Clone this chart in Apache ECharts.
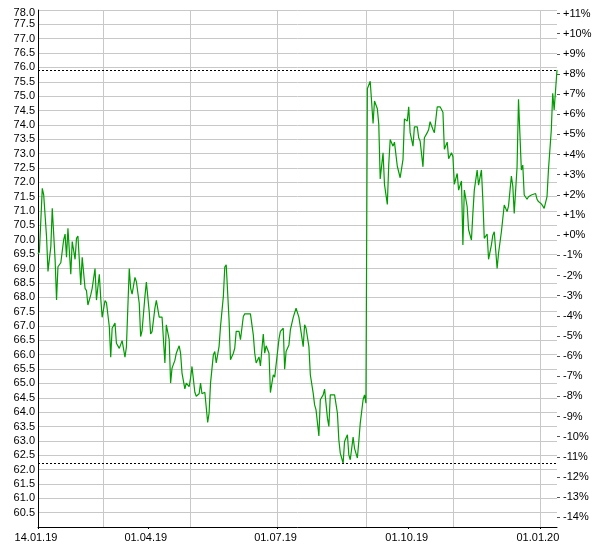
<!DOCTYPE html>
<html>
<head>
<meta charset="utf-8">
<script src="https://cdn.jsdelivr.net/npm/echarts@6/dist/echarts.min.js"></script>
<style>html,body{margin:0;padding:0;background:#fff}#c{width:600px;height:550px}</style>
</head>
<body>
<div id="c"></div>
<script>
const dates = [
'2019-01-14','2019-01-15','2019-01-16','2019-01-17','2019-01-18','2019-01-20','2019-01-21','2019-01-23','2019-01-24','2019-01-26',
'2019-01-27','2019-01-28','2019-01-30','2019-02-01','2019-02-02','2019-02-03','2019-02-04','2019-02-06','2019-02-07','2019-02-09',
'2019-02-10','2019-02-11','2019-02-13','2019-02-14','2019-02-16','2019-02-17','2019-02-18','2019-02-20','2019-02-21','2019-02-23',
'2019-02-24','2019-02-26','2019-02-27','2019-02-28','2019-03-02','2019-03-03','2019-03-05','2019-03-06','2019-03-07','2019-03-09',
'2019-03-10','2019-03-12','2019-03-13','2019-03-14','2019-03-16','2019-03-17','2019-03-19','2019-03-20','2019-03-21','2019-03-23',
'2019-03-24','2019-03-26','2019-03-27','2019-03-28','2019-03-30','2019-03-31','2019-04-02','2019-04-03','2019-04-04','2019-04-06',
'2019-04-07','2019-04-09','2019-04-11','2019-04-13','2019-04-14','2019-04-16','2019-04-17','2019-04-18','2019-04-20','2019-04-21',
'2019-04-23','2019-04-24','2019-04-25','2019-04-27','2019-04-28','2019-04-30','2019-05-01','2019-05-02','2019-05-04','2019-05-05',
'2019-05-07','2019-05-08','2019-05-09','2019-05-11','2019-05-13','2019-05-14','2019-05-15','2019-05-17','2019-05-18','2019-05-19',
'2019-05-21','2019-05-22','2019-05-24','2019-05-25','2019-05-26','2019-05-28','2019-05-29','2019-05-31','2019-06-01','2019-06-02',
'2019-06-04','2019-06-05','2019-06-07','2019-06-08','2019-06-12','2019-06-14','2019-06-15','2019-06-16','2019-06-18','2019-06-19',
'2019-06-21','2019-06-22','2019-06-23','2019-06-25','2019-06-26','2019-06-28','2019-06-29','2019-06-30','2019-07-02','2019-07-03',
'2019-07-05','2019-07-06','2019-07-07','2019-07-09','2019-07-10','2019-07-12','2019-07-13','2019-07-14','2019-07-16','2019-07-17',
'2019-07-19','2019-07-20','2019-07-21','2019-07-23','2019-07-24','2019-07-26','2019-07-27','2019-07-28','2019-07-30','2019-07-31',
'2019-08-02','2019-08-03','2019-08-05','2019-08-06','2019-08-07','2019-08-10','2019-08-12','2019-08-13','2019-08-14','2019-08-16',
'2019-08-17','2019-08-19','2019-08-20','2019-08-21','2019-08-23','2019-08-24','2019-08-26','2019-08-27','2019-08-28','2019-08-30',
'2019-08-31','2019-09-01','2019-09-02','2019-09-04','2019-09-06','2019-09-07','2019-09-09','2019-09-10','2019-09-11','2019-09-13',
'2019-09-14','2019-09-16','2019-09-17','2019-09-18','2019-09-20','2019-09-21','2019-09-23','2019-09-24','2019-09-25','2019-09-27',
'2019-09-28','2019-09-30','2019-10-01','2019-10-02','2019-10-04','2019-10-05','2019-10-07','2019-10-08','2019-10-09','2019-10-11',
'2019-10-12','2019-10-14','2019-10-15','2019-10-16','2019-10-18','2019-10-19','2019-10-21','2019-10-23','2019-10-25','2019-10-26',
'2019-10-28','2019-10-29','2019-10-31','2019-11-01','2019-11-02','2019-11-04','2019-11-05','2019-11-07','2019-11-08','2019-11-09',
'2019-11-11','2019-11-12','2019-11-14','2019-11-15','2019-11-16','2019-11-18','2019-11-19','2019-11-21','2019-11-22','2019-11-23',
'2019-11-25','2019-11-26','2019-11-28','2019-11-29','2019-11-30','2019-12-02','2019-12-03','2019-12-05','2019-12-06','2019-12-07',
'2019-12-09','2019-12-10','2019-12-12','2019-12-13','2019-12-14','2019-12-16','2019-12-17','2019-12-19','2019-12-20','2019-12-21',
'2019-12-23','2019-12-24','2019-12-26','2019-12-27','2019-12-29','2019-12-30','2019-12-31','2020-01-02','2020-01-03','2020-01-04',
'2020-01-06','2020-01-07','2020-01-09','2020-01-10','2020-01-11','2020-01-13'
];
const prices = [
69.50,69.58,69.64,71.79,71.56,70.10,68.90,69.76,71.10,69.30,
67.90,69.06,69.20,70.00,70.20,69.39,70.40,68.80,69.94,69.32,
70.05,70.13,68.43,69.39,68.31,68.23,67.73,68.08,68.31,69.00,
67.90,68.80,67.96,67.30,67.88,67.81,66.98,65.91,66.92,67.10,
66.40,66.22,66.22,66.49,65.91,66.26,69.00,68.31,68.11,68.69,
68.54,67.79,66.63,66.84,68.03,68.53,67.50,66.72,66.80,67.62,
67.89,67.31,67.31,65.71,67.04,66.52,65.01,65.53,65.80,66.05,
66.31,66.05,65.36,64.81,65.01,64.89,65.18,65.59,64.69,64.55,
64.64,65.01,64.64,64.69,63.64,63.97,65.01,66.00,66.11,65.71,
66.29,66.98,68.03,69.05,69.13,67.21,65.82,66.05,66.23,66.81,
66.81,66.52,67.33,67.42,67.42,66.69,66.05,65.71,65.92,65.61,
66.72,66.05,66.31,66.05,64.68,65.30,65.22,65.22,66.54,66.81,
66.92,65.49,66.11,66.34,66.86,67.30,67.30,67.62,67.30,67.30,
66.28,67.04,66.92,66.28,65.30,64.66,64.25,64.08,63.17,64.43,
64.60,64.80,63.79,63.50,64.60,64.60,63.96,63.03,62.57,62.22,
62.98,63.21,62.51,62.34,63.13,62.74,62.40,62.98,63.61,64.43,
64.60,64.31,75.26,75.52,74.05,74.83,74.56,74.02,72.12,73.03,
71.93,71.23,72.62,73.49,73.26,73.40,72.56,72.54,72.16,72.80,
74.21,74.13,74.63,73.73,73.26,73.93,73.93,73.55,73.44,72.54,
73.55,73.73,73.84,74.11,73.84,73.73,74.63,74.63,74.44,73.15,
73.40,72.82,73.03,72.89,71.93,72.31,71.73,72.05,69.82,71.73,
71.15,70.35,69.99,70.92,71.73,72.43,71.90,72.43,71.38,70.05,
70.20,69.32,69.82,70.16,70.28,69.00,69.53,70.28,70.22,71.21,
70.98,71.17,72.22,71.87,70.92,72.54,74.89,72.43,72.60,71.56,
71.41,71.50,71.56,71.61,71.61,71.41,71.33,71.25,71.18,71.09,
71.50,72.43,73.82,75.10,74.52,75.91
];
const xLabelDates = ['2019-01-14','2019-04-01','2019-07-01','2019-10-01','2020-01-01'];
const xGridDates = ['2019-03-01','2019-05-01','2019-07-01','2019-09-01','2019-11-01','2020-01-01'];
const pctTicks = [-14,-13,-12,-11,-10,-9,-8,-7,-6,-5,-4,-3,-2,-1,0,1,2,3,4,5,6,7,8,9,10,11];
const priceMin = 60, priceMax = 78, priceStep = 0.5;
const pctBase = 70.16;

function ts(s){const p=s.split('-').map(Number);return Date.UTC(p[0],p[1]-1,p[2]);}
function fmtDate(v){const d=new Date(v);const dd=String(d.getUTCDate()).padStart(2,'0');const mm=String(d.getUTCMonth()+1).padStart(2,'0');const yy=String(d.getUTCFullYear()).slice(2);return dd+'.'+mm+'.'+yy;}

const seriesData = dates.map((d,i)=>[ts(d),prices[i]]);
const font = {fontFamily:'Liberation Sans, Arial, sans-serif', fontSize:11, color:'#000'};

const chart = echarts.init(document.getElementById('c'), null, {renderer:'canvas'});
chart.setOption({
  animation:false,
  backgroundColor:'#fff',
  grid:{left:38, right:43, top:10, bottom:23, containLabel:false},
  xAxis:{
    type:'value', min:ts(dates[0]), max:ts(dates[dates.length-1]),
    axisLine:{show:true, onZero:false, lineStyle:{color:'#000', width:1}},
    axisTick:{show:true, length:2, customValues:xLabelDates.map(ts), lineStyle:{color:'#000'}},
    axisLabel:Object.assign({show:true, margin:5, customValues:xLabelDates.map(ts), formatter:fmtDate, padding:[0,4,0,0]}, font),
    splitLine:{show:false}
  },
  yAxis:[{
    type:'value', min:priceMin, max:priceMax, interval:priceStep, position:'left',
    axisLine:{show:true, onZero:false, lineStyle:{color:'#000', width:1}},
    axisTick:{show:false},
    axisLabel:Object.assign({margin:3,
      formatter:v=> v===priceMin ? '' : (v===priceMax ? '{top|'+v.toFixed(1)+'}' : v.toFixed(1)),
      rich:{top:{fontFamily:'Liberation Sans, Arial, sans-serif', fontSize:11, color:'#000', padding:[5,0,0,0]}}}, font),
    splitLine:{show:true, lineStyle:{color:'#c8c8c8', width:1}}
  },{
    type:'value', position:'right',
    min:(priceMin/pctBase-1)*100, max:(priceMax/pctBase-1)*100,
    axisLine:{show:false, onZero:false},
    axisTick:{show:true, inside:false, length:3, customValues:pctTicks, lineStyle:{color:'#555'}},
    axisLabel:Object.assign({margin:6, customValues:pctTicks, formatter:v=>(v>=0?'+':'')+Math.round(v)+'%'}, font),
    splitLine:{show:false}
  }],
  series:[{
    type:'line', data:[], z:1, silent:true,
    markLine:{silent:true, z:1, symbol:['none','none'], label:{show:false},
      lineStyle:{color:'#c8c8c8', type:'solid', width:1},
      data:xGridDates.map(d=>({xAxis:ts(d)}))}
  },{
    type:'line', data:seriesData, z:3, showSymbol:false, symbol:'none',
    lineStyle:{color:'#009c00', width:1.2},
    markLine:{silent:true, z:4, symbol:['none','none'], label:{show:false},
      lineStyle:{color:'#000', type:[2,2], width:1},
      data:[{type:'max', valueDim:'y'},{type:'min', valueDim:'y'}]}
  }]
});
</script>
</body>
</html>
